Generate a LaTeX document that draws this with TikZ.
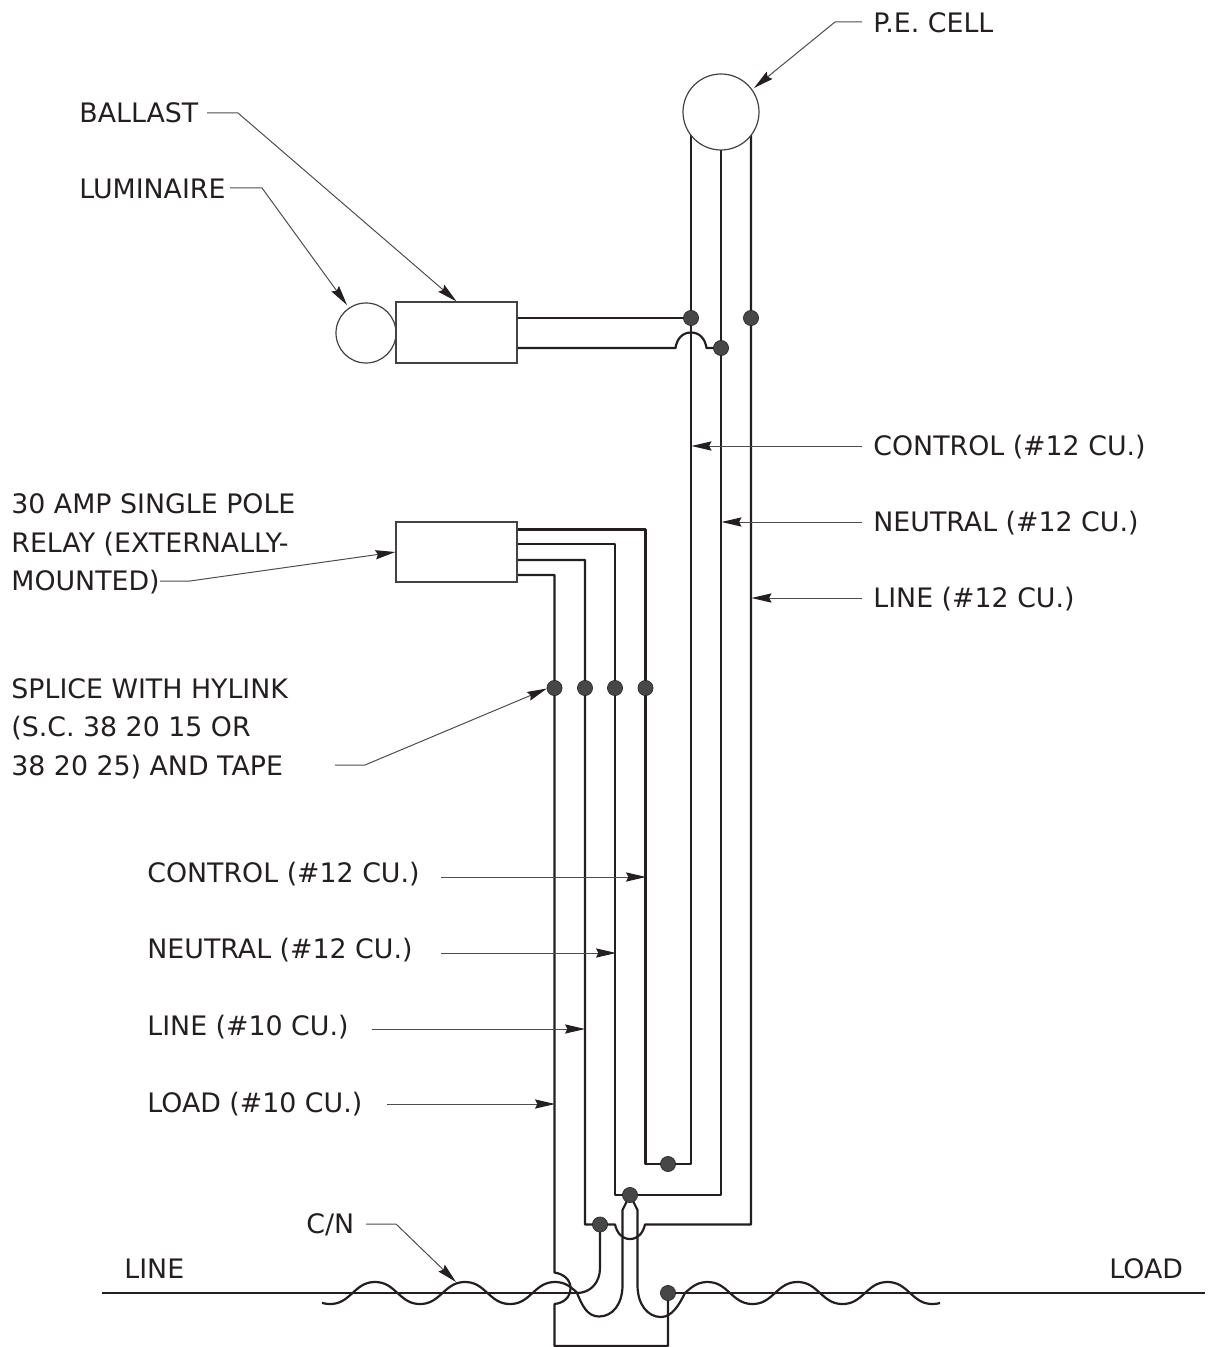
\documentclass[tikz,border=0pt]{standalone}
\usepackage{fontspec}
\setmainfont{DejaVu Sans}
\usetikzlibrary{arrows.meta,calc,positioning}
\definecolor{inkgray}{RGB}{35,31,32}
\tikzset{
  wire/.style={inkgray, line width=1.1pt, line join=round},
  leader/.style={inkgray!80, line width=0.5pt, -{Stealth[length=10pt,width=4.6pt,inset=1.2pt,inkgray]}},
  lbl/.style={inkgray, inner sep=0pt, anchor=west, align=left, font=\fontsize{13.4}{19.25}\selectfont},
  equip/.style={draw=inkgray!85, line width=0.6pt, fill=white, inner sep=0pt},
}
\begin{document}
\begin{tikzpicture}[x=0.5pt, y=-0.5pt]
  \useasboundingbox (0,0) rectangle (1209,1347);

  % Define points
  \coordinate (CtlTop) at (691,135);
  \coordinate (NeuTop) at (721,135);
  \coordinate (LinTop) at (751,135);
  \coordinate (CtlS) at (691,318);
  \coordinate (NeuS) at (721,348);
  \coordinate (LinS) at (751,318);
  \coordinate (BalA) at (517,318);
  \coordinate (BalB) at (517,348);
  \coordinate (RelA) at (517,529.5);
  \coordinate (RelB) at (517,544);
  \coordinate (RelC) at (517,560);
  \coordinate (RelD) at (517,575);
  \coordinate (SplA) at (554.5,688);
  \coordinate (SplB) at (585,688);
  \coordinate (SplC) at (615,688);
  \coordinate (SplD) at (645.5,688);
  \coordinate (CtlJ) at (668,1164);
  \coordinate (NeuJ) at (630,1195);
  \coordinate (LinJ) at (600,1224.5);
  \coordinate (LoadJ) at (668,1293);
  \coordinate (LineL) at (102,1293);
  \coordinate (LineC) at (577,1293);
  \coordinate (LineR) at (1205,1293);

  % Wires
  \draw[wire] (CtlTop) -- (CtlS) -- (691,1164) -- (645.5,1164) -- (SplD) -- (645.5,529.5) -- (RelA);
  \draw[wire] (NeuTop) -- (NeuS) -- (721,1195) -- (615,1195) -- (SplC) -- (615,544) -- (RelB);
  \draw[wire] (LinTop) -- (LinS) -- (751,1224.5) -- (645,1224.5) .. controls (643,1233) and (638,1239) .. (630,1239) .. controls (622,1239) and (617,1233) .. (615,1224.5) -- (585,1224.5) -- (SplB) -- (585,560) -- (RelC);
  \draw[wire] (BalA) -- (CtlS);
  \draw[wire] (BalB) -- (675.5,348) .. controls (677,338) and (683,332.5) .. (691,332.5) .. controls (699,332.5) and (705,338) .. (706.5,348) -- (NeuS);
  \draw[wire] (RelD) -- (554.5,575) -- (SplA) -- (554.5,1272.5) .. controls (564,1274) and (570.5,1280) .. (570.5,1288) .. controls (570.5,1297) and (564,1303) .. (554.5,1304) -- (554.5,1346) -- (668,1346) -- (LoadJ);
  \draw[wire] (LinJ) -- (600,1268) .. controls (600,1283) and (590,1293) .. (LineC);

  % Line and load
  \draw[wire] (LineL) -- (LineC);
  \draw[wire] (LoadJ) -- (LineR);

  % Conductor splices at the pole top
  \draw[wire] (NeuJ) -- (622.5,1210) -- (622.5,1285) .. controls (622.5,1305) and (612,1316.5) .. (599,1316.5) .. controls (587,1316.5) and (582,1305) .. (LineC);
  \draw[wire] (NeuJ) -- (637.5,1210) -- (637.5,1285) .. controls (637.5,1305) and (648,1317) .. (661,1317) .. controls (672,1317) and (679,1305) .. (685,1293);
  \draw[wire] plot[domain=322:577, samples=90, smooth] (\x,{1293+11.5*cos((\x-330)*4)-0.5*cos((\x-330)*12)});
  \draw[wire] plot[domain=685:940, samples=90, smooth] (\x,{1293-11.5*sin((\x-685)*4)-0.5*sin((\x-685)*12)});

  % Draw points
  \foreach \point in {CtlS, NeuS, LinS, SplA, SplB, SplC, SplD, CtlJ, NeuJ, LinJ, LoadJ}
      \fill [black!72, draw=black!85, line width=0.3pt] (\point) circle (3.8pt);

  % Equipment
  \node[equip, circle, minimum size=38pt] (cell) at (721,112) {};
  \node[equip, circle, minimum size=30pt] (lum) at (366,333) {};
  \node[equip, minimum width=60.5pt, minimum height=30.5pt] (ballast) at (456.5,332.5) {};
  \node[equip, minimum width=60.5pt, minimum height=30pt] (relay) at (456.5,552) {};

  % Label points
  \node[lbl] (cellL) at (873,23) {P.E. CELL};
  \node[lbl] (ballastL) at (79,113) {BALLAST};
  \node[lbl] (lumL) at (79,189) {LUMINAIRE};
  \node[lbl] (ctlR) at (873,447) {CONTROL (\#12 CU.)};
  \node[lbl] (neuR) at (873,523) {NEUTRAL (\#12 CU.)};
  \node[lbl] (linR) at (873,599.5) {LINE (\#12 CU.)};
  \node[lbl] (relayL) at (11,544) {30 AMP SINGLE POLE\\RELAY (EXTERNALLY-\\MOUNTED)};
  \node[lbl] (spliceL) at (11,728.5) {SPLICE WITH HYLINK\\(S.C. 38 20 15 OR\\38 20 25) AND TAPE};
  \node[lbl] (ctlL) at (147,874) {CONTROL (\#12 CU.)};
  \node[lbl] (neuL) at (147,950) {NEUTRAL (\#12 CU.)};
  \node[lbl] (linL) at (147,1027) {LINE (\#10 CU.)};
  \node[lbl] (loadL) at (147,1104) {LOAD (\#10 CU.)};
  \node[lbl] (cnL) at (306,1225) {C/N};
  \node[lbl] (lineT) at (124,1269) {LINE};
  \node[lbl] (loadT) at (1109,1269) {LOAD};

  % Leaders
  \coordinate (cellE) at (754,88);
  \coordinate (ctlRE) at (691.5,446);
  \coordinate (neuRE) at (721.5,522);
  \coordinate (linRE) at (751.5,598);
  \draw[leader] (862,22) -- (835,22) -- (cellE);
  \draw[leader] (207,113) -- (238,113) -- (ballast.north);
  \draw[leader] (230,188) -- (262,188) -- (347,305);
  \draw[leader] (862,446) -- (ctlRE);
  \draw[leader] (862,522) -- (neuRE);
  \draw[leader] (862,598) -- (linRE);
  \draw[leader] (160,581) -- (190,581) -- (relay.west);
  \draw[leader] (335,765) -- (365,765) -- (547,688.5);
  \draw[leader] (441,877) -- (646,877);
  \draw[leader] (441,953) -- (616,953);
  \draw[leader] (372,1029) -- (585,1029);
  \draw[leader] (387,1104) -- (555,1104);
  \draw[leader] (366,1224) -- (396,1224) -- (456,1282);
\end{tikzpicture}
\end{document}
